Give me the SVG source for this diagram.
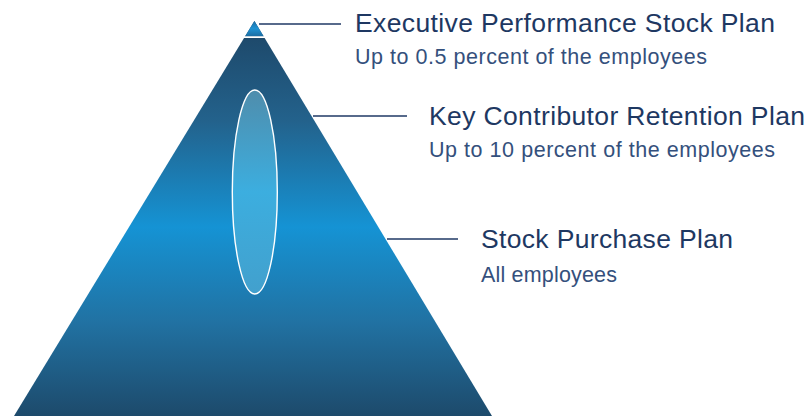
<svg xmlns="http://www.w3.org/2000/svg" width="811" height="416" viewBox="0 0 811 416">
  <style>
    .h { font-family: "Liberation Sans", Arial, sans-serif; font-size: 26.5px; fill: #1e3862; }
    .s { font-family: "Liberation Sans", Arial, sans-serif; font-size: 21.5px; fill: #34507c; }
    .ln { stroke: #1f3864; stroke-width: 1.5; fill: none; }
  </style>
  <defs>
    <linearGradient id="body" gradientUnits="userSpaceOnUse" x1="0" y1="38" x2="0" y2="416">
      <stop offset="0" stop-color="#1e4a6c"/>
      <stop offset="0.22" stop-color="#23628c"/>
      <stop offset="0.5" stop-color="#1593d4"/>
      <stop offset="0.75" stop-color="#2172a3"/>
      <stop offset="1" stop-color="#1d4a6b"/>
    </linearGradient>
    <linearGradient id="tip" x1="0" y1="0" x2="0" y2="1">
      <stop offset="0" stop-color="#1d6fa6"/>
      <stop offset="0.5" stop-color="#1f92d2"/>
      <stop offset="1" stop-color="#1c6da3"/>
    </linearGradient>
    <linearGradient id="ell" x1="0" y1="0" x2="0" y2="1">
      <stop offset="0" stop-color="#4f8dac"/>
      <stop offset="0.5" stop-color="#3caedf"/>
      <stop offset="1" stop-color="#42a0cd"/>
    </linearGradient>
  </defs>

  <g id="pyramid">
    <polygon points="254.4,21 14,416 492,416" fill="url(#body)"/>
    <polygon points="254.4,21 245.2,36.2 263.6,36.2" fill="url(#tip)"/>
    <line x1="238" y1="37.2" x2="272" y2="37.2" stroke="#ffffff" stroke-width="1.8"/>
    <ellipse cx="254.8" cy="192" rx="22.5" ry="102" fill="url(#ell)" stroke="#ffffff" stroke-width="1.4"/>
  </g>

  <g id="connectors">
    <line class="ln" x1="259" y1="24" x2="341" y2="24"/>
    <line class="ln" x1="313" y1="116" x2="407" y2="116"/>
    <line class="ln" x1="387" y1="239" x2="458" y2="239"/>
  </g>

  <g id="executive">
    <text class="h" x="355" y="32" textLength="420" lengthAdjust="spacing">Executive Performance Stock Plan</text>
    <text class="s" x="355" y="64" textLength="352" lengthAdjust="spacing">Up to 0.5 percent of the employees</text>
  </g>

  <g id="keycontributor">
    <text class="h" x="429" y="124.5" textLength="376" lengthAdjust="spacing">Key Contributor Retention Plan</text>
    <text class="s" x="429" y="157" textLength="346" lengthAdjust="spacing">Up to 10 percent of the employees</text>
  </g>

  <g id="stockpurchase">
    <text class="h" x="481" y="247.5" textLength="252" lengthAdjust="spacing">Stock Purchase Plan</text>
    <text class="s" x="481" y="281.5" textLength="136" lengthAdjust="spacing">All employees</text>
  </g>
</svg>
